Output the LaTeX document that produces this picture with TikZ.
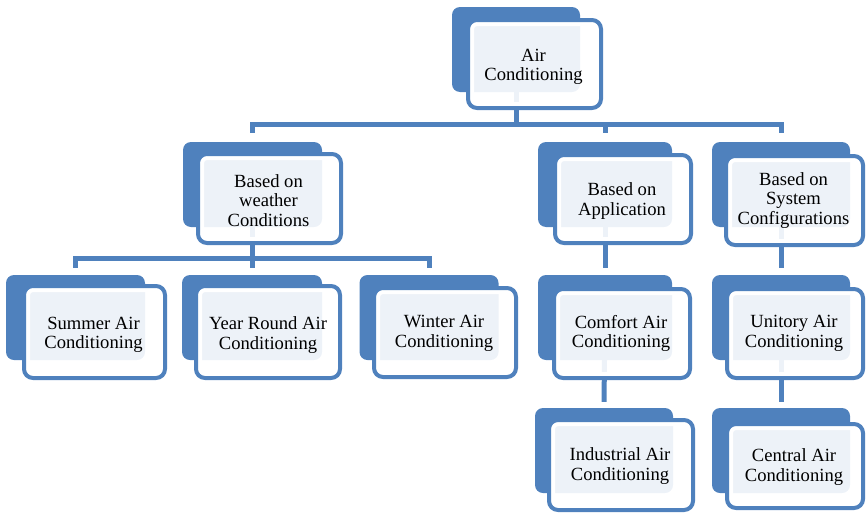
\documentclass[tikz,border=0pt]{standalone}
\usepackage{fontspec}
\setmainfont{Liberation Serif}
\usetikzlibrary{calc}
\definecolor{acblue}{RGB}{79,129,189}
\pgfdeclarelayer{bg}
\pgfsetlayers{bg,main}
\tikzset{
  backbox/.style={fill=acblue, rounded corners=8pt, inner sep=0pt},
  frontbox/.style={draw=acblue, line width=4pt, fill=white, fill opacity=0.9,
    rounded corners=9pt, inner sep=0pt,
    path picture={\draw[white, line width=12pt, rounded corners=9pt]
      (path picture bounding box.south west) rectangle
      (path picture bounding box.north east);}},
  boxtext/.style={inner sep=0pt, align=center,
    font=\fontsize{18.6}{19.6}\selectfont},
  conn/.style={draw=acblue, line width=5pt}
}
% back panel, framed front panel and its caption
\newcommand\acitem[9]{%
  \node[backbox, minimum width=#3pt, minimum height=85pt] (#1B) at (#2) {};
  \node[frontbox, minimum width=#5pt, minimum height=#6pt] (#1) at (#4) {};
  \node[boxtext] (#1T) at ($(#1.center)+(#7,#8)$) {#9};
}
\begin{document}
\begin{tikzpicture}[x=1pt, y=-1pt]
\useasboundingbox (0,0) rectangle (866,514);

% root
\acitem{root}{516,49.5}{128}{534.5,64}{133}{88}{-1}{3}{Air\\Conditioning}

% second level
\acitem{weather}{252.5,184.5}{139}{269.5,198.5}{143}{89}{-1}{2}{Based on\\weather\\Conditions}
\acitem{app}{605,184.5}{134}{623,199}{136}{88}{-1}{2}{Based on\\Application}
\acitem{sys}{781,184.5}{138}{794.5,200.5}{137}{89}{-1}{0}{Based on\\System\\Configurations}

% third level
\acitem{summer}{75.5,317.5}{139}{94.5,332}{141}{92}{-1}{3}{Summer Air\\Conditioning}
\acitem{year}{252,317.5}{140}{268,332}{144}{92}{0}{3}{Year Round Air\\Conditioning}
\acitem{winter}{429,317.5}{139}{445,332.5}{142}{89}{-1}{1}{Winter Air\\Conditioning}
\acitem{comfort}{605,317.5}{134}{622,333.5}{136}{89}{-1}{0}{Comfort Air\\Conditioning}
\acitem{unit}{781,317.5}{138}{795,333.5}{136}{89}{-1}{0}{Unitory Air\\Conditioning}

% fourth level
\acitem{ind}{604,450.5}{138}{621,465}{144}{90}{-1}{1}{Industrial Air\\Conditioning}
\acitem{central}{781,450.5}{138}{795,466}{136}{84}{-1}{1}{Central Air\\Conditioning}

% connectors
\begin{pgfonlayer}{bg}
  \coordinate (bar1) at (516,124);
  \coordinate (bar2) at (252.5,258);
  \draw[conn] (rootB.center) -- (bar1);
  \draw[conn] ($(weatherB.north)+(0,-9)$) |- (bar1) -| ($(sysB.north)+(0,-9)$);
  \draw[conn] (bar1 -| appB) -- ($(appB.north)+(0,-9)$);

  \draw[conn] (weatherB.center) -- (bar2);
  \draw[conn] ($(summerB.north)+(0,-7)$) |- (bar2) -| ($(winterB.north)+(0,-7)$);
  \draw[conn] (bar2 -| yearB) -- ($(yearB.north)+(0,-7)$);

  \draw[conn] (appB.center) -- ($(comfortB.north)+(0,-7)$);
  \draw[conn] (comfortB.center) -- ($(indB.north)+(0,-6)$);
  \draw[conn] (sysB.center) -- ($(unitB.north)+(0,-7)$);
  \draw[conn] (unitB.center) -- ($(centralB.north)+(0,-6)$);
\end{pgfonlayer}
\end{tikzpicture}
\end{document}
